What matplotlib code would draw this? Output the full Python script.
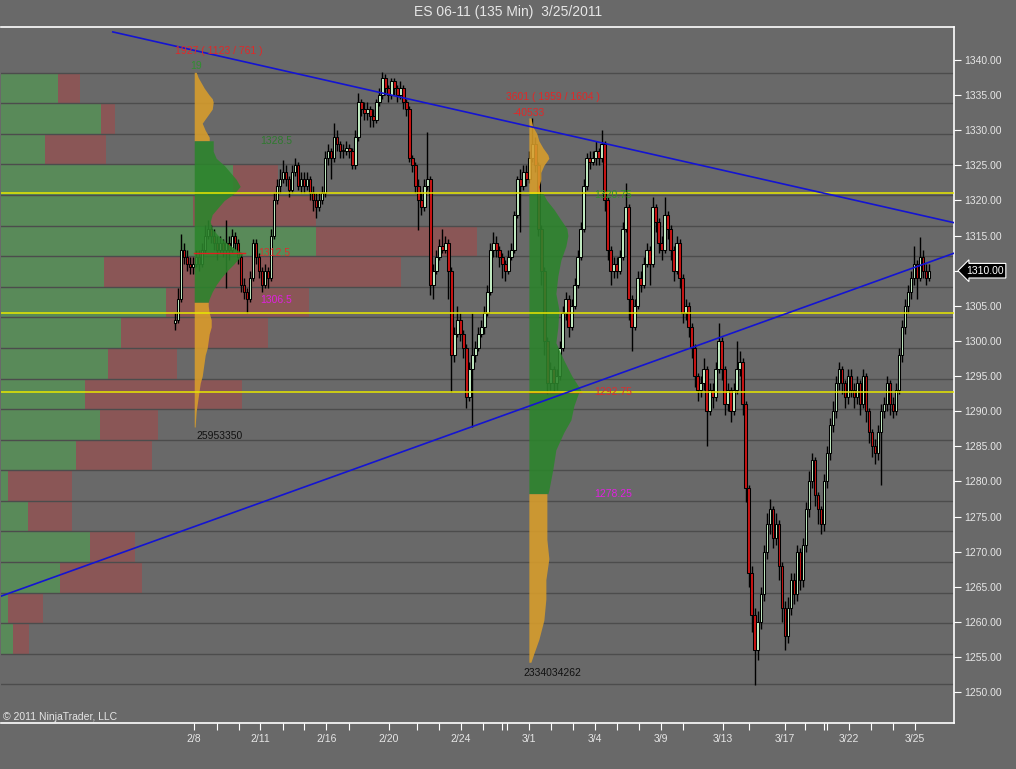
import numpy as np
import matplotlib.pyplot as plt
import matplotlib.transforms as mtransforms

plt.rcParams['font.family'] = ['Liberation Sans', 'DejaVu Sans']

chart_title = "ES 06-11 (135 Min)  3/25/2011"

# ---- 135 min bars (close / high / low), open = previous close ----
first_open = 1302.5
closes = [
    1303, 1306, 1313, 1312, 1311, 1310.5, 1311, 1312, 1311, 1313, 1315, 1316,
    1315, 1314, 1313, 1314, 1313, 1314, 1313, 1315, 1314, 1312, 1308, 1307,
    1306, 1309, 1314, 1312, 1310, 1308, 1310, 1309, 1315, 1320, 1322, 1323,
    1324, 1323, 1321.5, 1324, 1325, 1322, 1323, 1322, 1323, 1321, 1320, 1319,
    1320, 1321, 1326, 1327, 1326, 1329, 1328, 1327, 1327, 1327.5, 1327, 1325,
    1329, 1334, 1333, 1332.5, 1333, 1332, 1331.5, 1334, 1335, 1337.5, 1336, 1335,
    1337, 1336, 1335, 1336, 1334, 1333, 1326, 1325, 1322, 1320, 1319, 1322,
    1323, 1308, 1310, 1312, 1313.5, 1313, 1314, 1310, 1298, 1301, 1303, 1301,
    1299, 1292, 1296, 1298, 1299, 1301, 1302, 1304, 1307, 1313, 1314, 1313,
    1312, 1311, 1310, 1312, 1313, 1318, 1323, 1322, 1324, 1323, 1326, 1328,
    1325, 1316, 1310, 1300, 1294, 1296, 1294, 1295, 1299, 1304, 1306, 1302,
    1305, 1308, 1312, 1316, 1322, 1326, 1325.5, 1326, 1327, 1326, 1328, 1320,
    1313, 1310, 1311, 1310, 1312, 1316, 1319, 1306, 1302, 1305, 1309, 1308,
    1311, 1313, 1311, 1319, 1317, 1314, 1313, 1318, 1316, 1313, 1310, 1314,
    1309, 1304, 1305, 1302, 1299, 1295, 1293, 1294, 1296, 1290, 1293, 1292,
    1296, 1300, 1296, 1291, 1293, 1290, 1293, 1296, 1297, 1291, 1279, 1267,
    1261, 1256, 1260, 1264, 1270, 1274, 1276, 1272, 1274, 1268, 1262, 1258,
    1262, 1266, 1264, 1270, 1266, 1271, 1276, 1280, 1283, 1278, 1276, 1274,
    1280, 1284, 1288, 1290, 1294, 1296, 1294, 1292, 1295, 1293, 1292, 1294,
    1291, 1295, 1290, 1287, 1285, 1284, 1287, 1290, 1291, 1294, 1291, 1290,
    1293, 1298, 1302, 1305, 1307, 1309, 1311, 1309, 1312, 1310, 1309, 1310,
]
highs = [
    1304, 1307.5, 1315.25, 1314, 1313, 1312, 1312, 1313, 1313, 1314, 1316.5, 1317.25,
    1316.5, 1316, 1315, 1315, 1314.5, 1317.25, 1315, 1316, 1315.5, 1314.5, 1312.5, 1309,
    1307.5, 1310, 1314.5, 1314.5, 1312.5, 1310.5, 1311, 1310.5, 1316, 1321, 1323, 1324.5,
    1325.75, 1325, 1323.5, 1325, 1326, 1325.5, 1324, 1324, 1324, 1323.5, 1322, 1321,
    1321, 1322, 1327, 1328, 1327.5, 1331, 1330, 1328.5, 1328, 1328.5, 1328, 1327.5,
    1330, 1335.25, 1334.5, 1334, 1334, 1333.5, 1333, 1334.5, 1336, 1338.25, 1338, 1336.5,
    1337.5, 1337.5, 1336.5, 1337, 1336.5, 1334.5, 1333.5, 1326.5, 1325.5, 1323, 1321, 1323,
    1329.75, 1323.5, 1311, 1313, 1314.5, 1316, 1315, 1314.5, 1310.5, 1302, 1305, 1304,
    1301.5, 1299.5, 1297, 1304, 1300, 1302, 1303, 1305, 1308, 1314, 1315.5, 1315,
    1313.5, 1312.5, 1311.5, 1313, 1314, 1318.5, 1323.5, 1324.5, 1325, 1325, 1327, 1331.75,
    1329, 1325.5, 1316.5, 1310.5, 1300.5, 1297, 1296.5, 1296, 1300, 1305, 1307, 1306.5,
    1306, 1309, 1313, 1317, 1323, 1326.75, 1327, 1327, 1328.5, 1327.5, 1330, 1328.5,
    1320.5, 1313.5, 1312, 1312, 1313, 1317, 1322.5, 1319.5, 1306.5, 1306, 1310, 1310,
    1312, 1314, 1313.5, 1320.5, 1319.5, 1317.5, 1315, 1320.5, 1318.5, 1316.5, 1313.5, 1315,
    1314.5, 1309.5, 1306, 1305.5, 1302.5, 1299.5, 1295.5, 1295, 1297.5, 1296.5, 1294, 1294,
    1297, 1302.5, 1300.5, 1296.5, 1294, 1293.5, 1294, 1300, 1298.5, 1297.5, 1291.5, 1279.5,
    1268, 1262, 1261.5, 1265, 1271, 1275.5, 1277.5, 1276.5, 1275.5, 1274.5, 1268.5, 1263,
    1263.5, 1267, 1267, 1271, 1270.5, 1272, 1277, 1281.5, 1284, 1283.5, 1278.5, 1276.5,
    1281, 1285, 1289, 1291.5, 1295, 1297, 1296.5, 1294.5, 1296, 1296, 1294, 1295,
    1294.5, 1296, 1295.5, 1290.5, 1287.5, 1286, 1288, 1291, 1292, 1295, 1294.5, 1292,
    1294, 1299, 1303, 1306, 1308, 1310, 1313.5, 1311.5, 1314.75, 1313, 1311, 1311,
]
lows = [
    1301.5, 1302.5, 1305.5, 1311, 1310, 1309.5, 1309.5, 1310.5, 1310, 1310.5, 1312.5, 1314.5,
    1314, 1313, 1311.5, 1312.5, 1312, 1307.5, 1311.5, 1312.5, 1313, 1311, 1307, 1306,
    1304, 1305.5, 1308.5, 1311, 1309, 1307, 1307.5, 1307.5, 1308.5, 1314.5, 1319.5, 1321,
    1322.5, 1322, 1320.5, 1321, 1323.5, 1321.5, 1321, 1321, 1321.5, 1320, 1318.5, 1317.5,
    1318.5, 1319.5, 1320.5, 1325, 1323, 1325.5, 1327, 1326, 1326, 1326.5, 1326, 1324.5,
    1324.5, 1328.5, 1332, 1331.5, 1331.5, 1330.5, 1330.5, 1331, 1333.5, 1334.5, 1335, 1334,
    1334.5, 1335, 1334, 1334.5, 1333, 1332, 1325.5, 1324, 1321, 1315.75, 1318, 1318.5,
    1321.5, 1306.5, 1306, 1309.5, 1311.5, 1312.5, 1312.5, 1306, 1292.75, 1297, 1300.5, 1300,
    1297.5, 1290.5, 1291.5, 1287.75, 1297, 1298.5, 1300.5, 1301, 1303.5, 1306.5, 1312, 1312,
    1310.5, 1309, 1308.5, 1309.5, 1311.5, 1312.5, 1317.5, 1315.5, 1321.5, 1322, 1322.5, 1325.5,
    1324, 1315, 1308, 1298, 1292.5, 1293, 1292.75, 1293, 1294.5, 1298.5, 1303, 1300.5,
    1301.5, 1304.5, 1307.5, 1311.5, 1315.5, 1321.5, 1324.5, 1325, 1325, 1325, 1325.5, 1318.5,
    1311.5, 1308, 1309, 1309, 1309.5, 1311.5, 1315.5, 1303, 1298.5, 1301.5, 1304.5, 1307,
    1307.5, 1310.5, 1308, 1310.5, 1315.5, 1312.5, 1311.5, 1312.5, 1314.5, 1311.5, 1308.5, 1309.5,
    1307.5, 1302.5, 1303, 1300.5, 1297.5, 1293.5, 1291.5, 1292, 1293, 1285, 1289.5, 1290.5,
    1291.5, 1295.5, 1294.5, 1289.5, 1290, 1288.5, 1289.5, 1292.5, 1295, 1289.5, 1277, 1265,
    1258.5, 1251, 1254.5, 1259, 1263, 1269, 1272.5, 1270.5, 1271, 1266, 1260, 1256,
    1257, 1261, 1262.5, 1263, 1264.5, 1265, 1270, 1275, 1279, 1276.5, 1274, 1272.5,
    1273, 1279, 1283, 1287, 1289, 1293, 1292.5, 1290.5, 1291, 1292, 1290.5, 1291,
    1289.5, 1290.5, 1288.5, 1285.5, 1283.5, 1282.5, 1283, 1279.5, 1289, 1290, 1289.5, 1289,
    1289.5, 1292.5, 1297, 1301, 1304, 1306, 1308, 1306, 1308.5, 1309, 1308, 1308.5,
]
opens = [first_open] + closes[:-1]
last_price = 1310.00

# ---- session labels (bar index of session start) ----
date_labels = ['2/8', '2/11', '2/16', '2/20', '2/24', '3/1', '3/4', '3/9', '3/13', '3/17', '3/22', '3/25']
date_bars = [6.4, 28.4, 50.4, 71.2, 95.1, 117.8, 139.8, 161.8, 182.4, 203.0, 224.4, 246.3]
minor_bars = [13.9, 21.2, 35.9, 43.1, 57.9, 80.6, 87.8, 102.6, 108.9, 110.6, 125.2, 132.4,
              147.2, 154.6, 169.2, 191.1, 209.8, 215.9, 217.0, 231.8, 239.1]

# ---- volume by price (left side), 20 rows top -> bottom ----
vbp_bottom, vbp_step = 1251.1, 4.355
vbp_up = [57, 100, 44, 232, 192, 315, 103, 165, 120, 107, 84, 99, 75, 7, 27, 89, 59, 7, 12, 0]
vbp_down = [22, 14, 61, 45, 123, 161, 297, 143, 147, 69, 157, 58, 76, 64, 44, 45, 82, 35, 16, 0]

# ---- session profiles: price levels and volume ----
p1_hi_px = [1338.25, 1337.5, 1337, 1336, 1335, 1334.5, 1334, 1333, 1332, 1331, 1330, 1329, 1328.5]
p1_hi_v = [2, 4, 6, 10, 15, 18, 19, 18, 13, 8, 11, 15, 15]
p1_va_px = [1328.5, 1327, 1326, 1325, 1324, 1323, 1322, 1321, 1320, 1319, 1318, 1317, 1316, 1315,
            1314, 1313, 1312.5, 1312, 1311, 1310, 1309, 1308, 1307, 1306, 1305.5]
p1_va_v = [19, 19, 22, 30, 36, 42, 46, 40, 30, 24, 18, 16, 18, 24, 32, 42, 49, 46, 40, 33, 27, 22, 18, 15, 14]
p1_lo_px = [1305.5, 1305, 1304, 1303, 1302, 1301, 1300, 1299, 1298, 1297, 1296, 1295, 1294, 1293,
            1292, 1291, 1290, 1289, 1288, 1287.75]
p1_lo_v = [14, 14, 15, 17, 17, 15, 14, 13, 11, 10, 9, 8, 6, 5, 4, 3, 2, 1.5, 1, 1]

p2_hi_px = [1331.75, 1330.5, 1329.5, 1328.5, 1327.5, 1326.5, 1326, 1325, 1324, 1323, 1322, 1321]
p2_hi_v = [2, 4, 8, 10, 14, 19, 20, 15, 12, 12, 10, 11]
p2_va_px = [1321, 1320, 1318.75, 1317.25, 1316, 1315, 1313.5, 1311.5, 1309.25, 1306.75, 1304.5, 1302,
            1299.75, 1297.25, 1295, 1293, 1292.75, 1290.75, 1288.75, 1287, 1284.5, 1281.75, 1278.75, 1278.25]
p2_va_v = [14, 18, 25, 32, 38, 39, 37, 32, 29, 27, 30, 29, 27, 35, 43, 52, 50, 45, 42, 35, 27, 24, 20, 19]
p2_lo_px = [1278.25, 1276, 1274.5, 1271.75, 1269, 1266, 1263.25, 1260.25, 1257.5, 1255.5, 1254.25]
p2_lo_v = [18, 18, 18, 18, 20, 17, 17, 15, 10, 5, 2]

prof1_poc, prof2_poc = 1312.5, 1292.75
key_levels = [1321.0, 1304.0, 1292.75]
# trend lines (bar index, price)
trend_down = [(-20.7, 1344.0), (259.7, 1316.8)]
trend_up = [(-58.3, 1263.6), (259.7, 1312.55)]

# ---- colours ----
BG = '#696969'
GRID = '#4c4c4c'
VB_UP, VB_DN = '#598a59', '#8a5656'
P_ORANGE, P_GREEN = '#d99e2b', '#2c852c'
UP_BODY, DN_BODY = '#c4eec4', '#c81414'
FG = '#e6e6e6'

W, H, DPI = 1016, 769, 100
fig = plt.figure(figsize=(W / DPI, H / DPI), dpi=DPI, facecolor=BG)
ax = fig.add_axes([1 / W, 46 / H, 953 / W, 696 / H], facecolor=BG)

n = len(closes)
px_per_bar = 754 / (n - 1)
ax.set_xlim(-174 / px_per_bar, 779 / px_per_bar)
ax.set_ylim(1245.6, 1344.7)

# volume by price rows
blend = mtransforms.blended_transform_factory(ax.transAxes, ax.transData)
rows = len(vbp_up)
for k in range(rows):
    bot = vbp_bottom + (rows - 1 - k) * vbp_step
    up = vbp_up[k] / 953
    dn = vbp_down[k] / 953
    ax.add_patch(plt.Rectangle((0, bot), up, vbp_step, transform=blend, color=VB_UP, lw=0, zorder=1))
    ax.add_patch(plt.Rectangle((up, bot), dn, vbp_step, transform=blend, color=VB_DN, lw=0, zorder=1))
for k in range(rows + 1):
    ax.axhline(vbp_bottom + k * vbp_step, color=GRID, lw=1.0, zorder=2)

# candles
xs = np.arange(n)
o = np.array(opens); c = np.array(closes)
ax.vlines(xs, lows, highs, color='black', lw=1.0, zorder=3)
body_lo = np.minimum(o, c)
body_h = np.maximum(np.abs(c - o), 0.25)
cols = [UP_BODY if cc >= oo else DN_BODY for oo, cc in zip(o, c)]
ax.bar(xs, body_h, bottom=body_lo, width=0.85, color=cols, edgecolor='black', linewidth=0.75, zorder=3)

# session profiles
scale = 1 / px_per_bar
def draw_profile(x0, parts, poc, poc_len):
    for prices, vols, col in parts:
        ax.fill_betweenx(prices, x0, x0 + np.array(vols) * scale, color=col, lw=0, alpha=0.88, zorder=4)
    ax.plot([x0, x0 + poc_len * scale], [poc, poc], color='#e02020', lw=1.0, zorder=5)

x_p1, x_p2 = date_bars[0], date_bars[5]
draw_profile(x_p1, [(p1_hi_px, p1_hi_v, P_ORANGE), (p1_va_px, p1_va_v, P_GREEN), (p1_lo_px, p1_lo_v, P_ORANGE)], prof1_poc, 51)
draw_profile(x_p2, [(p2_hi_px, p2_hi_v, P_ORANGE), (p2_va_px, p2_va_v, P_GREEN), (p2_lo_px, p2_lo_v, P_ORANGE)], prof2_poc, 52)

for lv in key_levels:
    ax.axhline(lv, color='#e8e800', lw=1.1, zorder=6)
for seg in (trend_down, trend_up):
    ax.plot([seg[0][0], seg[1][0]], [seg[0][1], seg[1][1]], color='#1414d2', lw=1.2, zorder=7)

# profile labels
fs = 7.5
def lbl(x, y, s, col):
    ax.text(x, y, s, color=col, fontsize=fs, va='center', ha='left', zorder=8)
lbl(x_p1 - 19 * scale, 1341.3, '1927 ( 1123 / 761 )', '#e02828')
lbl(x_p1 - 4 * scale, 1339.1, '19', '#2f8f2f')
lbl(x_p1 + 66 * scale, 1328.5, '1328.5', '#2f7a2f')
lbl(x_p1 + 64 * scale, prof1_poc, '1312.5', '#d83030')
lbl(x_p1 + 66 * scale, 1305.9, '1306.5', '#e020e0')
lbl(x_p1 + 2 * scale, 1286.4, '25953350', '#111111')
lbl(x_p2 - 23 * scale, 1334.8, '3601 ( 1959 / 1604 )', '#e02828')
lbl(x_p2 - 16 * scale, 1332.4, '-40533', '#e02828')
lbl(x_p2 + 65 * scale, 1320.75, '1320.75', '#2f8f2f')
lbl(x_p2 + 65 * scale, prof2_poc, '1292.75', '#d83030')
lbl(x_p2 + 65 * scale, 1278.25, '1278.25', '#e020e0')
lbl(x_p2 - 5 * scale, 1252.7, '2334034262', '#111111')

# axes styling
ax.spines['left'].set_visible(False)
for side in ('top', 'right', 'bottom'):
    ax.spines[side].set_color('white')
    ax.spines[side].set_linewidth(1.2)
ax.yaxis.tick_right()
yt = np.arange(1250, 1341, 5)
ax.set_yticks(yt)
# the last-price marker sits over the 1310 label
ax.set_yticklabels(['' if v == last_price else f'{v:.2f}' for v in yt])
ax.tick_params(axis='y', colors='white', labelcolor=FG, labelsize=fs, length=5, width=0.8, pad=2, direction='out')
ax.set_xticks(date_bars)
ax.set_xticklabels(date_labels)
ax.set_xticks(minor_bars, minor=True)
ax.tick_params(axis='x', which='both', colors='white', labelcolor=FG, labelsize=fs, length=5, width=0.8, pad=3, direction='out')

# last price marker
ax.text(1.0125, last_price, f'{last_price:.2f}', transform=blend, color='white', fontsize=fs,
        va='center', ha='left', zorder=9, clip_on=False,
        bbox=dict(boxstyle='larrow,pad=0.22', fc='black', ec='white', lw=0.8))

fig.text(0.5, 1 - 12 / H, chart_title, color=FG, fontsize=10, ha='center', va='center')
fig.text(3 / W, 1 - 717 / H, '\u00a9 2011 NinjaTrader, LLC', color=FG, fontsize=fs, ha='left', va='center')

fig.savefig('out.png', dpi=DPI, facecolor=BG)
